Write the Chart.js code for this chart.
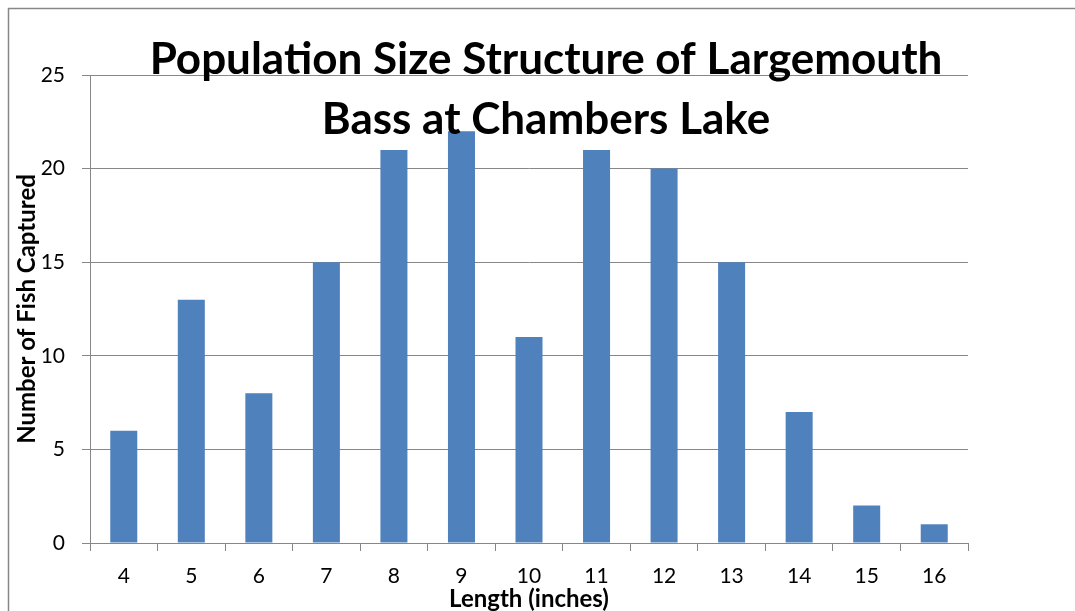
<!DOCTYPE html>
<html>
<head>
<meta charset="utf-8">
<script src="https://cdn.jsdelivr.net/npm/chart.js@4"></script>
<style>
  html, body { margin: 0; padding: 0; background: #fff; }
  canvas { display: block; }
</style>
</head>
<body>
<canvas id="bassChart" width="1075" height="611"></canvas>
<script>
const lengths = ["4", "5", "6", "7", "8", "9", "10", "11", "12", "13", "14", "15", "16"];
const fishCount = [6, 13, 8, 15, 21, 22, 11, 21, 20, 15, 7, 2, 1];
const titleLines = ["Population Size Structure of Largemouth", "Bass at Chambers Lake"];

const gray = '#878787';

// outer frame + title drawn over the plot, like the original
const framePlugin = {
    id: 'frame',
    beforeDraw(chart) {
        const c = chart.ctx;
        c.save();
        c.strokeStyle = gray;
        c.lineWidth = 1.5;
        c.strokeRect(8.5, 8.5, 1200, 800);
        c.restore();
    },
    afterDraw(chart) {
        const c = chart.ctx;
        c.save();
        c.fillStyle = '#000';
        c.font = 'bold 44px Lato';
        c.textAlign = 'center';
        c.textBaseline = 'alphabetic';
        c.fillText(titleLines[0], 546, 74);
        c.fillText(titleLines[1], 546, 134);
        c.restore();
    }
};

const ctx = document.getElementById('bassChart').getContext('2d');
new Chart(ctx, {
    type: 'bar',
    data: {
        labels: lengths,
        datasets: [{
            label: 'Fish',
            data: fishCount,
            backgroundColor: '#4F81BD',
            borderWidth: 0,
            barPercentage: 0.4,
            categoryPercentage: 1
        }]
    },
    options: {
        responsive: false,
        animation: false,
        layout: { padding: { left: 0, top: 75, right: 107, bottom: 0 } },
        plugins: {
            legend: { display: false },
            tooltip: { enabled: false }
        },
        scales: {
            x: {
                afterFit(scale) { scale.height = 68; },
                grid: { offset: true, drawOnChartArea: false, drawTicks: true, tickLength: 8, color: gray },
                border: { color: gray, width: 1 },
                ticks: { color: '#000', font: { family: 'Lato', size: 21 }, padding: 13 },
                title: { display: true, text: 'Length (inches)', color: '#000',
                         font: { family: 'Lato', size: 24, weight: 'bold' }, padding: { top: 0, bottom: -3 } }
            },
            y: {
                min: 0, max: 25,
                afterFit(scale) { scale.width = 90; },
                grid: { color: gray, tickLength: 8 },
                border: { color: gray, width: 1 },
                ticks: { stepSize: 5, color: '#000', font: { family: 'Lato', size: 21 }, padding: 17 },
                title: { display: true, text: 'Number of Fish Captured', color: '#000',
                         font: { family: 'Lato', size: 24, weight: 'bold' }, padding: { top: 13, bottom: 0 } }
            }
        }
    },
    plugins: [framePlugin]
});
</script>
</body>
</html>
